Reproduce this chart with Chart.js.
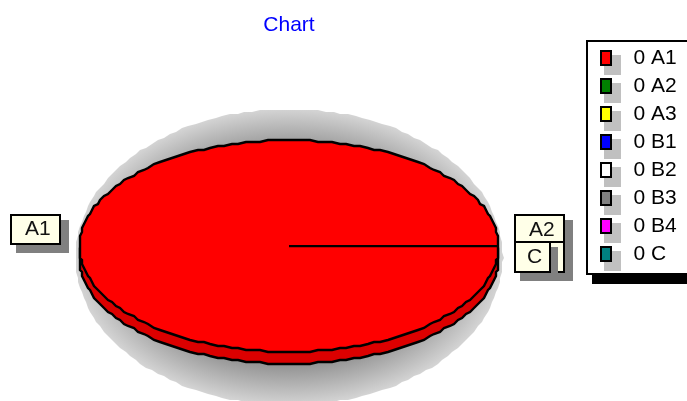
<!DOCTYPE html>
<html>
<head>
<meta charset="utf-8">
<style>html,body{margin:0;padding:0;background:#fff;overflow:hidden}canvas{display:block}</style>
<script src="https://cdn.jsdelivr.net/npm/chart.js@4"></script>
</head>
<body>
<canvas id="c" width="687" height="401"></canvas>
<script>
const titleText = "Chart";
const categories = ["A1", "A2", "A3", "B1", "B2", "B3", "B4", "C"];
const legendValues = [0, 0, 0, 0, 0, 0, 0, 0];
const sliceShares = [100, 0, 0, 0, 0, 0, 0, 0];
const sliceColors = ["#ff0000", "#008000", "#ffff00", "#0000ff", "#ffffff", "#808080", "#ff00ff", "#008080"];
const calloutLabels = ["A1", "A2", "C"];

const FONT = '"Liberation Sans", Arial, sans-serif';
const SX = 2.1, SY = 1.06, DEPTH = 12, GRID = 2;

function geom(chart) {
  const a = chart.getDatasetMeta(0).data[0];
  const p = a.getProps(['x', 'y', 'outerRadius', 'startAngle']);
  return { x: p.x, y: p.y, rx: p.outerRadius * SX, ry: p.outerRadius * SY, a: p.startAngle };
}

// Trace an ellipse on a coarse pixel grid, for the stepped look of the original renderer.
function steppedEllipse(ctx, cx, cy, rx, ry) {
  ctx.beginPath();
  for (let i = 0; i < 360; i += 2) {
    const t = i * Math.PI / 180;
    const x = Math.round((cx + Math.cos(t) * rx) / GRID) * GRID;
    const y = Math.round((cy + Math.sin(t) * ry) / GRID) * GRID;
    if (i === 0) ctx.moveTo(x, y); else ctx.lineTo(x, y);
  }
  ctx.closePath();
}

function box(ctx, x0, y0, x1, y1, fill) {
  ctx.fillStyle = fill;
  ctx.fillRect(x0, y0, x1 - x0, y1 - y0);
  ctx.strokeStyle = '#000';
  ctx.lineWidth = 2;
  ctx.strokeRect(x0 + 1, y0 + 1, x1 - x0 - 2, y1 - y0 - 2);
}

const pieStyle = {
  id: 'pieStyle',
  afterLayout(chart) {
    const t = chart.titleBlock;
    t.top = 13; t.bottom = 38;
    const l = chart.legend;
    l.left = 594; l.top = 41; l.right = 720; l.bottom = 274; l.width = 126; l.height = 233;
  },
  beforeDraw(chart) {
    const ctx = chart.ctx, l = chart.legend;
    ctx.save();
    ctx.fillStyle = '#fff';
    ctx.fillRect(0, 0, chart.width, chart.height);
    // legend frame and its drop shadow
    ctx.fillStyle = '#000';
    ctx.fillRect(592, 275, 95, 9);
    ctx.fillStyle = '#fff';
    ctx.fillRect(587, 41, 100, 233);
    ctx.strokeStyle = '#000';
    ctx.lineWidth = 2;
    ctx.beginPath();
    ctx.moveTo(700, 41); ctx.lineTo(587, 41); ctx.lineTo(587, 274); ctx.lineTo(700, 274);
    ctx.stroke();
    // legend swatches, following the legend's rows
    const cols = chart.data.datasets[0].backgroundColor;
    const pad = l.options.labels.padding;
    categories.forEach((c, i) => {
      const x = l.left + pad, y = l.top + pad + 3 + i * 28;
      ctx.fillStyle = '#c0c0c0';
      ctx.fillRect(x + 3, y + 4, 17, 20);
      box(ctx, x - 1, y - 1, x + 11, y + 15, cols[i]);
    });
    ctx.restore();
  },
  beforeDatasetsDraw(chart) {
    const ctx = chart.ctx, g = geom(chart);
    ctx.save();
    // soft floor shadow
    const grad = ctx.createRadialGradient(0, 0, 0, 0, 0, 1);
    grad.addColorStop(0, '#808080');
    grad.addColorStop(0.7, '#8c8c8c');
    grad.addColorStop(1, '#d4d4d4');
    steppedEllipse(ctx, g.x, g.y + 11, 214, 148);
    ctx.save();
    ctx.clip();
    ctx.translate(g.x, g.y + 11);
    ctx.scale(214, 148);
    ctx.fillStyle = grad;
    ctx.fillRect(-1.1, -1.1, 2.2, 2.2);
    ctx.restore();
    // extruded side of the pie
    steppedEllipse(ctx, g.x, g.y + DEPTH, g.rx, g.ry);
    ctx.fillStyle = '#dc0000';
    ctx.fill();
    ctx.strokeStyle = '#000';
    ctx.lineWidth = 2.4;
    ctx.stroke();
    ctx.restore();
  },
  beforeDatasetDraw(chart) {
    const ctx = chart.ctx, g = geom(chart);
    ctx.save();
    ctx.translate(g.x, g.y);
    ctx.scale(SX, SY);
    ctx.translate(-g.x, -g.y);
  },
  afterDatasetDraw(chart) {
    chart.ctx.restore();
  },
  afterDatasetsDraw(chart) {
    const ctx = chart.ctx, g = geom(chart);
    ctx.save();
    ctx.strokeStyle = '#000';
    ctx.lineWidth = 2.4;
    steppedEllipse(ctx, g.x, g.y, g.rx, g.ry);
    ctx.stroke();
    ctx.beginPath();
    ctx.moveTo(g.x, g.y);
    ctx.lineTo(g.x + Math.cos(g.a) * g.rx, g.y + Math.sin(g.a) * g.ry);
    ctx.stroke();

    // callout labels
    const cream = '#ffffe8';
    ctx.fillStyle = '#808080';
    ctx.fillRect(16, 220, 53, 33);
    box(ctx, 10, 214, 61, 245, cream);
    ctx.fillStyle = '#808080';
    ctx.fillRect(520, 220, 53, 61);
    box(ctx, 514, 241, 565, 273, cream);
    ctx.fillStyle = '#808080';
    ctx.fillRect(520, 247, 38, 34);
    box(ctx, 514, 241, 551, 273, cream);
    box(ctx, 514, 214, 565, 243, cream);
    ctx.fillStyle = '#111';
    ctx.font = '21px ' + FONT;
    ctx.textAlign = 'left';
    ctx.textBaseline = 'middle';
    ctx.fillText(calloutLabels[0], 25, 229);
    ctx.fillText(calloutLabels[1], 529, 230);
    ctx.fillText(calloutLabels[2], 527, 257);
    ctx.restore();
  }
};

new Chart(document.getElementById('c'), {
  type: 'pie',
  data: {
    labels: categories,
    datasets: [{
      data: sliceShares,
      backgroundColor: sliceColors,
      borderWidth: 0,
      clip: false
    }]
  },
  options: {
    responsive: false,
    animation: false,
    devicePixelRatio: 1,
    events: [],
    rotation: 90,
    layout: { padding: { left: 189, right: 298, top: 121, bottom: 55 } },
    plugins: {
      tooltip: { enabled: false },
      title: {
        display: true,
        text: titleText,
        color: '#0000ff',
        fullSize: false,
        font: { family: FONT, size: 21, weight: 'normal', lineHeight: 1.2 },
        padding: 0
      },
      legend: {
        display: true,
        position: 'chartArea',
        align: 'start',
        labels: {
          color: '#111',
          font: { family: FONT, size: 21 },
          boxWidth: 22,
          boxHeight: 14,
          padding: 7,
          generateLabels: () => categories.map((c, i) => ({
            text: legendValues[i] + ' ' + c,
            fillStyle: 'rgba(0,0,0,0)',
            strokeStyle: 'rgba(0,0,0,0)',
            lineWidth: 0,
            hidden: false,
            index: i
          }))
        }
      }
    }
  },
  plugins: [pieStyle]
});
</script>
</body>
</html>
